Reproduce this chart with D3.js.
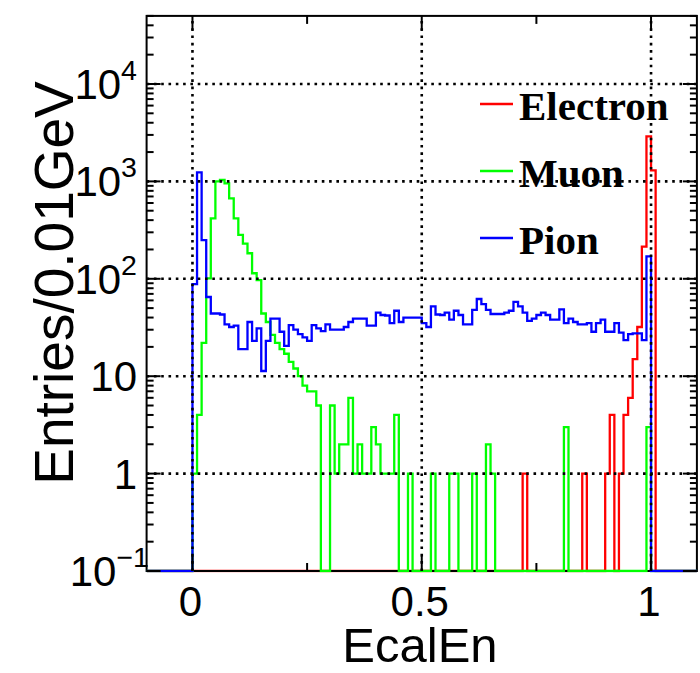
<!DOCTYPE html>
<html><head><meta charset="utf-8">
<script src="https://cdn.jsdelivr.net/npm/d3@7"></script>
<style>html,body{margin:0;padding:0;background:#fff;} svg{display:block;}</style>
</head><body>
<svg id="c" width="700" height="673"></svg>
<script>
// ---- data (bins of 0.01 starting at 0.00) ----
const binStart = 0.0;
const binWidth = 0.01;
const electron = [
  0,0,0,0,0,0,0,0,0,0,
  0,0,0,0,0,0,0,0,0,0,
  0,0,0,0,0,0,0,0,0,0,
  0,0,0,0,0,0,0,0,0,0,
  0,0,0,0,0,0,0,0,0,0,
  0,0,0,0,0,0,0,0,0,0,
  0,0,0,0,0,0,0,0,0,0,
  0,0,1,0,0,0,0,0,0,0,
  0,0,0,0,0,1,0,0,0,0,
  1,4,0,1,4,6,15,32,214,2900,
  1300
];
const muon = [
  1,4,22,101,418,1000,1033,955,670,418,
  282,230,183,114,97,44,36,26.5,22,19,
  17,14,12,10,8,7,7,5,0,0,
  5,1,2,2,6,1,2,1,1,3,
  2,1,1,1,4,0,0,1,0,0,
  0,0,1,0,0,0,1,1,0,0,
  0,1,0,0,2,1,0,0,0,0,
  0,0,0,0,0,0,0,0,0,0,
  0,3,0,0,0,0,0,0,0,0,
  0,0,0,0,0,0,0,0,0,3,
  0
];
const pion = [
  88,1240,250,65,44,44,43,34,32,33,
  19,19,36,23,31,11.3,23,39,39,28.6,
  20.5,33.5,30,27,25,23,33.5,31,29,34,
  30,30,30,32,36,39,39,39,33,33,
  45,42.5,42,35,47,36,40,40,40,40,
  35,32,52,43,42.5,45,38,47,42.5,34,
  34,48,62,55,48,43.5,43.5,43.5,45,47,
  58,52,45,37,39,42.5,45,42.5,38,38,
  48.6,35,39,36,34,34,35,28.6,35,38,
  28.6,28.6,35,28,23.5,27,27.5,27.5,23.5,170,
  0
];
const seriesNames = ["Electron", "Muon", "Pion"];
const xTicks = [0, 0.5, 1];
const xTickLabels = ["0", "0.5", "1"];
const xMinorTicks = [-0.25, 0.25, 0.75, 1.25];
const yTicks = [0.1, 1, 10, 100, 1000, 10000];
const yTickBase = ["10", "1", "10", "10", "10", "10"];
const yTickExp = ["\u22121", "", "", "2", "3", "4"];
const xDomain = [-0.1, 1.1];
const yDomain = [0.1, 5e4];
const xTitle = "EcalEn";
const yTitle = "Entries/0.01GeV";

// ---- layout ----
const W = 700, H = 673;
const m = {l: 146.6, r: 3.1, t: 15.9, b: 102};
const colors = ["#ff0000", "#00ff00", "#0000ff"];
const sans = "'Liberation Sans', Arial, sans-serif";
const serif = "'Liberation Serif', 'Times New Roman', serif";

const svg = d3.select("#c");
const x = d3.scaleLinear().domain(xDomain).range([m.l, W - m.r]);
const y = d3.scaleLog().domain(yDomain).range([H - m.b, m.t]);
const x0 = x.range()[0], x1 = x.range()[1], y0 = y.range()[0], y1 = y.range()[1];

svg.append("defs").append("clipPath").attr("id", "clip")
  .append("rect").attr("x", x0).attr("y", y1).attr("width", x1 - x0).attr("height", y0 - y1 + 1.5);

function histPoints(vals) {
  const f = yDomain[0];
  const pts = [[xDomain[0], f], [binStart, f]];
  vals.forEach((v, i) => {
    const lo = binStart + i * binWidth, hi = lo + binWidth;
    const vv = Math.max(v, f);
    pts.push([lo, vv], [hi, vv]);
  });
  pts.push([binStart + vals.length * binWidth, f], [xDomain[1], f]);
  return pts;
}
const line = d3.line().x(d => x(d[0])).y(d => Math.min(y(d[1]), y0));
const lw = 2.3;

const plot = svg.append("g").attr("clip-path", "url(#clip)");
plot.append("path").attr("d", line(histPoints(electron)))
  .attr("fill", "none").attr("stroke", colors[0]).attr("stroke-width", lw);

// frame
svg.append("rect").attr("x", x0).attr("y", y1).attr("width", x1 - x0).attr("height", y0 - y1)
  .attr("fill", "none").attr("stroke", "#000").attr("stroke-width", 2);

const plot2 = svg.append("g").attr("clip-path", "url(#clip)");
plot2.append("path").attr("d", line(histPoints(muon)))
  .attr("fill", "none").attr("stroke", colors[1]).attr("stroke-width", lw);
plot2.append("path").attr("d", line(histPoints(pion)))
  .attr("fill", "none").attr("stroke", colors[2]).attr("stroke-width", lw);

// grid (dotted)
const grid = svg.append("g").attr("stroke", "#000").attr("stroke-width", 2.6)
  .attr("stroke-dasharray", "2.6 4.7").attr("fill", "none");
xTicks.forEach(t => grid.append("line").attr("x1", x(t)).attr("x2", x(t)).attr("y1", y0).attr("y2", y1));
yTicks.slice(1).forEach(t => grid.append("line").attr("x1", x0).attr("x2", x1).attr("y1", y(t)).attr("y2", y(t)));

// ticks
const ticks = svg.append("g").attr("stroke", "#000").attr("stroke-width", 2);
const xMajLen = 15, xMinLen = 8, yMajLen = 14, yMinLen = 7;
xTicks.forEach(t => {
  ticks.append("line").attr("x1", x(t)).attr("x2", x(t)).attr("y1", y0).attr("y2", y0 - xMajLen);
  ticks.append("line").attr("x1", x(t)).attr("x2", x(t)).attr("y1", y1).attr("y2", y1 + xMajLen);
});
xMinorTicks.filter(t => t > xDomain[0] && t < xDomain[1]).forEach(t => {
  ticks.append("line").attr("x1", x(t)).attr("x2", x(t)).attr("y1", y0).attr("y2", y0 - xMinLen);
  ticks.append("line").attr("x1", x(t)).attr("x2", x(t)).attr("y1", y1).attr("y2", y1 + xMinLen);
});
y.ticks(60).forEach(t => {
  if (t < yDomain[0] || t > yDomain[1]) return;
  const mant = t / Math.pow(10, Math.floor(Math.log10(t) + 1e-9));
  const major = Math.abs(mant - 1) < 1e-6;
  const len = major ? yMajLen : yMinLen;
  ticks.append("line").attr("x1", x0).attr("x2", x0 + len).attr("y1", y(t)).attr("y2", y(t));
  ticks.append("line").attr("x1", x1).attr("x2", x1 - len).attr("y1", y(t)).attr("y2", y(t));
});

// tick labels
const labFs = 42;
xTicks.forEach((t, i) => {
  svg.append("text").attr("x", x(t) - 2).attr("y", 616).attr("text-anchor", "middle")
    .attr("font-family", sans).attr("font-size", labFs).text(xTickLabels[i]);
});
yTicks.forEach((t, i) => {
  const tx = svg.append("text").attr("x", yTickExp[i] === "\u22121" ? 149 : 137)
    .attr("y", y(t) + 15).attr("text-anchor", "end")
    .attr("font-family", sans).attr("font-size", labFs);
  tx.append("tspan").text(yTickBase[i]);
  if (yTickExp[i]) tx.append("tspan").attr("font-size", labFs * 0.68).attr("dy", -19).text(yTickExp[i]);
});

// axis titles
svg.append("text").attr("x", 420).attr("y", 662).attr("text-anchor", "middle")
  .attr("font-family", sans).attr("font-size", 49).text(xTitle);
svg.append("text").attr("transform", "translate(73,283) rotate(-90)").attr("text-anchor", "middle")
  .attr("font-family", sans).attr("font-size", 55).text(yTitle);

// legend
const legY = [104, 171, 238];
seriesNames.forEach((n, i) => {
  svg.append("line").attr("x1", 480).attr("x2", 513).attr("y1", legY[i]).attr("y2", legY[i])
    .attr("stroke", colors[i]).attr("stroke-width", lw);
  svg.append("text").attr("x", 519).attr("y", legY[i] + 15.5)
    .attr("font-family", serif).attr("font-weight", "bold").attr("font-size", 41).text(n);
});
</script>
</body></html>
